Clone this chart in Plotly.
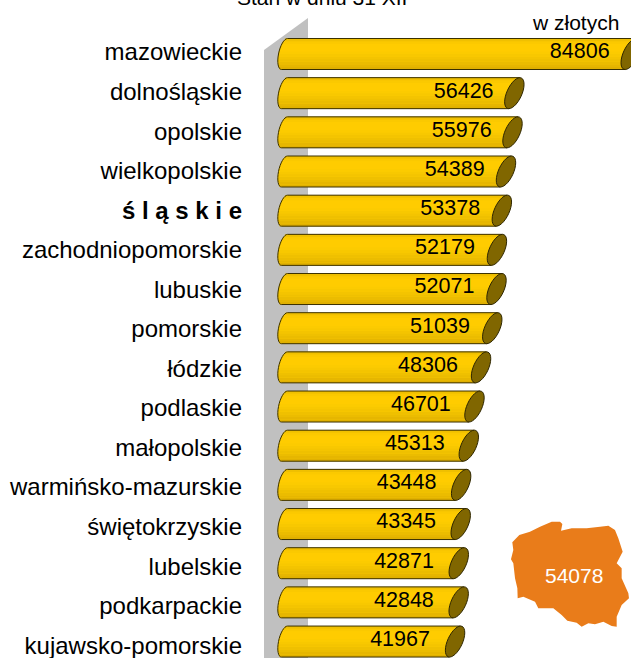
import math
import plotly.graph_objects as go

regions = ["mazowieckie", "dolnośląskie", "opolskie", "wielkopolskie", "<b>ś l ą s k i e</b>",
           "zachodniopomorskie", "lubuskie", "pomorskie", "łódzkie", "podlaskie", "małopolskie",
           "warmińsko-mazurskie", "świętokrzyskie", "lubelskie", "podkarpackie", "kujawsko-pomorskie"]
values = [84806, 56426, 55976, 54389, 53378, 52179, 52071, 51039, 48306, 46701, 45313,
          43448, 43345, 42871, 42848, 41967]
national_average = 54078
band_colors = ["#e0b000", "#e6b600", "#ebbc00", "#efc000", "#f4c400", "#f8c800",
               "#fccb00", "#ffcc00", "#ffcc00", "#ffcc00", "#fbc900", "#f0c000"]
map_outline = [(97,127),(118,105),(150,95),(180,80),(215,65),(240,65),(247,72),(243,92),(275,85),
               (320,85),(360,80),(385,77),(405,90),(415,115),(428,155),(410,190),(425,205),(425,235),
               (445,280),(447,295),(425,315),(410,350),(410,380),(395,378),(370,365),(345,373),
               (325,370),(305,380),(290,368),(262,362),(245,345),(220,325),(195,325),(175,325),
               (165,305),(130,290),(113,295),(112,265),(105,235),(100,190),(93,178),(100,150)]

W, H = 631, 658
PX_PER_UNIT = 0.0041
ZERO_PX = 283
PLOT_LEFT = 243
ROW_PX = 39.17
ROW0_PX = 54
LAB_PX = 39.55
LAB0_PX = 52
HALF = 15.5
FONT = "Liberation Sans, Arial, sans-serif"
FS = 21.5

xr = [(PLOT_LEFT - ZERO_PX) / PX_PER_UNIT, (W - ZERO_PX) / PX_PER_UNIT]
y2r = [(H - ROW0_PX) / ROW_PX, -ROW0_PX / ROW_PX]
y1r = [(H - LAB0_PX) / LAB_PX, -LAB0_PX / LAB_PX]
dx = lambda px: px / PX_PER_UNIT
dy = lambda px: px / ROW_PX


def ellipse(cx, i, tilt, bx, steps, t0=0.0, t1=2 * math.pi):
    """Tilted end-cap outline in data units, centred at value cx on row i."""
    out = []
    for k in range(steps + 1):
        t = t0 + (t1 - t0) * k / steps
        ex = tilt * math.cos(t) + bx * math.sin(t)
        ey = -HALF * math.cos(t)
        out.append((cx + dx(ex), i + dy(ey)))
    return out


def to_path(pts, close=True):
    s = "M" + " L".join(f"{x:.1f},{y:.4f}" for x, y in pts)
    return s + (" Z" if close else "")


fig = go.Figure()

shapes = [dict(type="path", xref="paper", yref="paper", layer="below", line_width=0, fillcolor="#c0c0c0",
               path=f"M{264/W},{1-50/H} L{308/W},{1-18/H} L{308/W},0 L{264/W},0 Z")]

for i, v in enumerate(values):
    left = ellipse(dx(1.5), i, 3, 6, 16, 0.0, -math.pi)
    silhouette = [(v + dx(5.5), i - dy(HALF))] + left + [(v - dx(5.5), i + dy(HALF))]
    shapes.append(dict(type="path", xref="x", yref="y2", layer="below", line_width=0,
                       fillcolor="#ffcc00", path=to_path(silhouette)))
    shapes.append(dict(type="path", xref="x", yref="y2", layer="above", fillcolor="rgba(0,0,0,0)",
                       line=dict(color="#3a3000", width=1), path=to_path(silhouette, close=False)))
    shapes.append(dict(type="path", xref="x", yref="y2", layer="above", fillcolor="#806600",
                       line=dict(color="#2e2600", width=1), path=to_path(ellipse(v, i, 5.5, 8, 32))))

map_path = "M" + " L".join(f"{(480 + x / 3) / W:.4f},{1 - (500 + y / 3) / H:.4f}" for x, y in map_outline) + " Z"
shapes.append(dict(type="path", xref="paper", yref="paper", layer="below", line_width=0,
                   fillcolor="#e97c1a", path=map_path))

N = len(band_colors)
for k, col in enumerate(band_colors):
    t = (k + 0.5) / N
    offs = (2 * t - 1) * HALF
    right_skew = dx(5.5 * (2 * t - 1))
    ang = math.acos(max(-1, min(1, offs / HALF)))
    left_x = dx(1.5 + 3 * math.cos(ang) - 6 * math.sin(ang))
    fig.add_trace(go.Bar(
        y=[i - dy(offs) for i in range(len(values))],
        x=[v + right_skew - left_x for v in values],
        base=[left_x] * len(values),
        width=dy(2 * HALF / N) * 1.04,
        orientation="h", marker=dict(color=col, line_width=0),
        yaxis="y2", hoverinfo="skip", showlegend=False,
    ))

fig.add_trace(go.Scatter(
    x=[v - dx(min(55 - (v - min(values)) * 0.0003, 55)) if v < 56500 else v - dx(51) for v in values],
    y=[i - dy(1) for i in range(len(values))],
    mode="text", text=[str(v) for v in values], textposition="middle center",
    textfont=dict(family=FONT, size=FS, color="#000"),
    yaxis="y2", hoverinfo="skip", showlegend=False, cliponaxis=False,
))
fig.add_trace(go.Scatter(x=[0] * len(values), y=list(range(len(values))), mode="none",
                         hoverinfo="skip", showlegend=False))

fig.update_layout(
    width=W, height=H, margin=dict(l=0, r=0, t=0, b=0),
    paper_bgcolor="white", plot_bgcolor="rgba(0,0,0,0)",
    barmode="overlay", showlegend=False, shapes=shapes,
    font=dict(family=FONT, size=FS, color="#000"),
    xaxis=dict(domain=[PLOT_LEFT / W, 1], range=xr, visible=False, fixedrange=True),
    yaxis=dict(range=y1r, tickmode="array", tickvals=list(range(len(values))), ticktext=regions,
               showgrid=False, zeroline=False, showline=False, ticks="", fixedrange=True,
               tickfont=dict(family=FONT, size=24, color="#000"), ticklabeloverflow="allow",
               anchor="x", automargin=False),
    yaxis2=dict(range=y2r, overlaying="y", visible=False, fixedrange=True),
    annotations=[
        dict(text="Stan w dniu 31 XII", xref="paper", yref="paper", x=322 / W, y=1 + 3 / H,
             xanchor="center", yanchor="middle", showarrow=False, font=dict(size=21)),
        dict(text="w złotych", xref="paper", yref="paper", x=575 / W, y=1 - 22 / H,
             xanchor="center", yanchor="middle", showarrow=False, font=dict(size=21)),
        dict(text=str(national_average), xref="paper", yref="paper", x=574 / W, y=1 - 575 / H,
             xanchor="center", yanchor="middle", showarrow=False, font=dict(size=21, color="white")),
    ],
)
fig.write_html("out.html", config=dict(displayModeBar=False),
               post_script="document.body.style.margin='0';document.body.style.overflow='hidden';")
